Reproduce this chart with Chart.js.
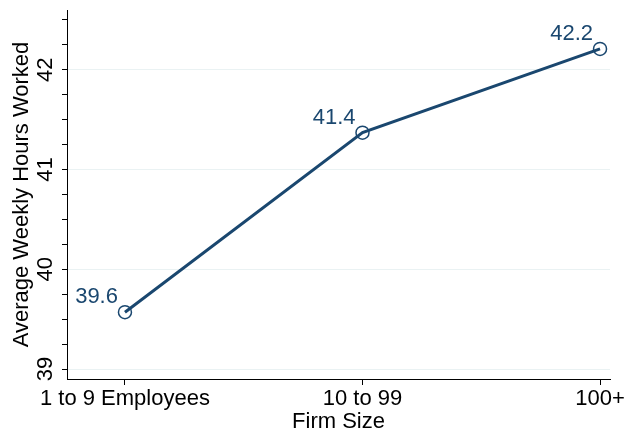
<!DOCTYPE html>
<html>
<head>
<meta charset="utf-8">
<script src="https://cdn.jsdelivr.net/npm/chart.js@4/dist/chart.umd.min.js"></script>
<style>
  body { margin: 0; background: #fff; }
  #wrap { width: 624px; height: 431px; }
</style>
</head>
<body>
<div id="wrap"><canvas id="chart" width="624" height="431"></canvas></div>
<script>
const categories = ['1 to 9 Employees', '10 to 99', '100+'];
const hoursWorked = [39.57, 41.37, 42.21];
const valueLabels = ['39.6', '41.4', '42.2'];
const yMajorTicks = [39, 40, 41, 42];
const yAllTicks = [39, 39.25, 39.5, 39.75, 40, 40.25, 40.5, 40.75, 41, 41.25, 41.5, 41.75, 42, 42.25, 42.5];

const navy = '#1a476f';
const fontFamily = '"Liberation Sans", Arial, sans-serif';

// text is drawn by hand so y labels can be rotated like the original
const textPlugin = {
  id: 'stataText',
  afterDraw(chart) {
    const ctx = chart.ctx;
    const xs = chart.scales.x;
    const ys = chart.scales.y;
    const area = chart.chartArea;

    ctx.save();
    ctx.fillStyle = '#000';
    ctx.font = '22px ' + fontFamily;
    ctx.textAlign = 'center';
    ctx.textBaseline = 'alphabetic';

    yMajorTicks.forEach(v => {
      ctx.save();
      ctx.translate(52, ys.getPixelForValue(v));
      ctx.rotate(-Math.PI / 2);
      ctx.fillText(String(v), 0, 0);
      ctx.restore();
    });

    ctx.save();
    ctx.translate(28, (area.top + area.bottom) / 2);
    ctx.rotate(-Math.PI / 2);
    ctx.fillText('Average Weekly Hours Worked', 0, 0);
    ctx.restore();

    categories.forEach((c, i) => {
      ctx.fillText(c, xs.getPixelForValue(i), 405);
    });
    ctx.fillText('Firm Size', (area.left + area.right) / 2, 428);

    ctx.fillStyle = navy;
    ctx.textAlign = 'right';
    chart.getDatasetMeta(0).data.forEach((pt, i) => {
      ctx.fillText(valueLabels[i], pt.x - 7, pt.y - 9);
    });
    ctx.restore();
  }
};

new Chart(document.getElementById('chart'), {
  type: 'line',
  data: {
    datasets: [{
      data: hoursWorked.map((v, i) => ({ x: i, y: v })),
      borderColor: navy,
      borderWidth: 3,
      tension: 0,
      pointRadius: 6.5,
      pointBorderWidth: 1.5,
      pointBorderColor: navy,
      pointBackgroundColor: 'rgba(0,0,0,0)'
    }]
  },
  options: {
    responsive: false,
    animation: false,
    layout: { padding: { top: 10, right: 14, left: 0, bottom: 0 } },
    plugins: {
      legend: { display: false },
      tooltip: { enabled: false }
    },
    scales: {
      x: {
        type: 'linear',
        min: -0.244,
        max: 2.042,
        afterBuildTicks: s => { s.ticks = categories.map((c, i) => ({ value: i })); },
        afterFit: s => { s.height = 52; },
        ticks: { display: false },
        grid: { drawOnChartArea: false, tickColor: '#000', tickLength: 6 },
        border: { color: '#000', width: 1 }
      },
      y: {
        type: 'linear',
        min: 38.9,
        max: 42.6,
        afterBuildTicks: s => { s.ticks = yAllTicks.map(v => ({ value: v })); },
        afterFit: s => { s.width = 67; },
        ticks: { display: false },
        grid: {
          color: ctx => yMajorTicks.includes(ctx.tick && ctx.tick.value) ? '#eaf2f3' : 'rgba(0,0,0,0)',
          tickColor: '#000',
          tickLength: 5
        },
        border: { color: '#000', width: 1 }
      }
    }
  },
  plugins: [textPlugin]
});
</script>
</body>
</html>
